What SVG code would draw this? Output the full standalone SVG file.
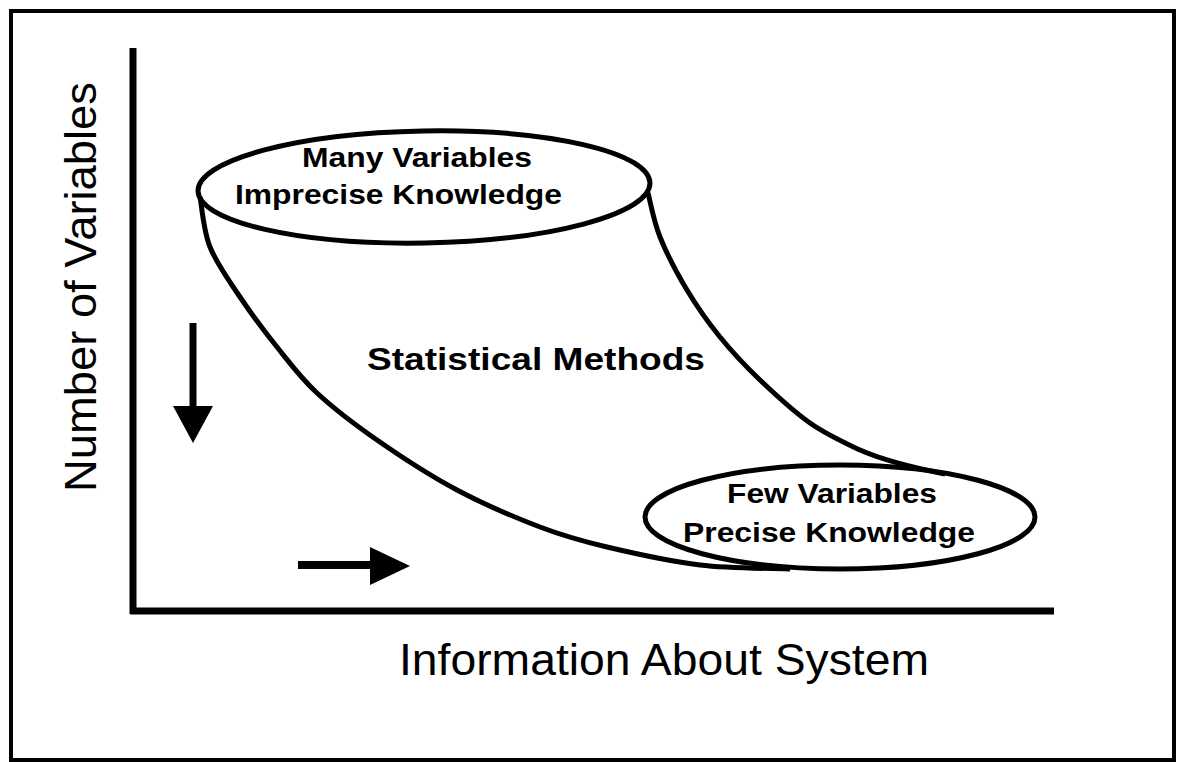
<svg xmlns="http://www.w3.org/2000/svg" width="1177" height="762" viewBox="0 0 1177 762">
<style>
.ln{fill:none;stroke:#000;stroke-linecap:butt;stroke-linejoin:round}
.el{fill:none;stroke:#000;stroke-width:5}
.lbl{font-family:"Liberation Sans",Arial,sans-serif;font-weight:bold;fill:#000}
.ax{font-family:"Liberation Sans",Arial,sans-serif;fill:#000}
</style>
<rect x="0" y="0" width="1177" height="762" fill="#fff"/>
<rect id="frame" x="11" y="11" width="1163" height="749" fill="none" stroke="#000" stroke-width="4"/>
<g id="axes">
<line class="ln" x1="133" y1="48" x2="133" y2="614" stroke-width="7"/>
<line class="ln" x1="130" y1="611" x2="1054" y2="611" stroke-width="7"/>
<text class="ax" x="399" y="675" font-size="44" textLength="530" lengthAdjust="spacingAndGlyphs">Information About System</text>
<text class="ax" transform="translate(96,492) rotate(-90)" font-size="44" textLength="410" lengthAdjust="spacingAndGlyphs">Number of Variables</text>
</g>
<g id="connectors">
<path id="left-curve" class="ln" stroke-width="5" d="M200,197 C201.7,205.3 203.3,230.3 210,247 C216.7,263.7 228.8,280.3 240,297 C251.2,313.7 264.2,331 277,347 C289.8,363 300.3,377.5 317,393 C333.7,408.5 353.7,423.8 377,440 C400.3,456.2 429.8,475.5 457,490 C484.2,504.5 515,517.5 540,527 C565,536.5 580.3,540.7 607,547 C633.7,553.3 669.5,561.3 700,565 C730.5,568.7 775,568.3 790,569"/>
<path id="right-curve" class="ln" stroke-width="5" d="M648,193 C650,200.3 653.5,220.8 660,237 C666.5,253.2 677,273.3 687,290 C697,306.7 707.8,322 720,337 C732.2,352 745,365.7 760,380 C775,394.3 793.3,411.3 810,423 C826.7,434.7 843.3,442.2 860,450 C878,458 905,466 945,474"/>
<g id="arrow-down">
<line class="ln" x1="193" y1="323" x2="193" y2="407" stroke-width="7"/>
<polygon points="173,406 213,406 193,443" fill="#000"/>
</g>
<g id="arrow-right">
<line class="ln" x1="298" y1="565" x2="372" y2="565" stroke-width="8"/>
<polygon points="370,547 370,585 410,566" fill="#000"/>
</g>
</g>
<g id="node-many">
<ellipse class="el" cx="424" cy="187" rx="226" ry="56" transform="rotate(-1 424 187)"/>
<text class="lbl" x="302" y="167" font-size="28" textLength="230" lengthAdjust="spacingAndGlyphs">Many Variables</text>
<text class="lbl" x="235" y="204" font-size="28" textLength="327" lengthAdjust="spacingAndGlyphs">Imprecise Knowledge</text>
</g>
<g id="node-statistical">
<text class="lbl" x="367" y="370" font-size="31" textLength="338" lengthAdjust="spacingAndGlyphs">Statistical Methods</text>
</g>
<g id="node-few">
<ellipse class="el" cx="840" cy="517" rx="195" ry="52"/>
<text class="lbl" x="727" y="503" font-size="28" textLength="210" lengthAdjust="spacingAndGlyphs">Few Variables</text>
<text class="lbl" x="683" y="542" font-size="28" textLength="292" lengthAdjust="spacingAndGlyphs">Precise Knowledge</text>
</g>
</svg>
